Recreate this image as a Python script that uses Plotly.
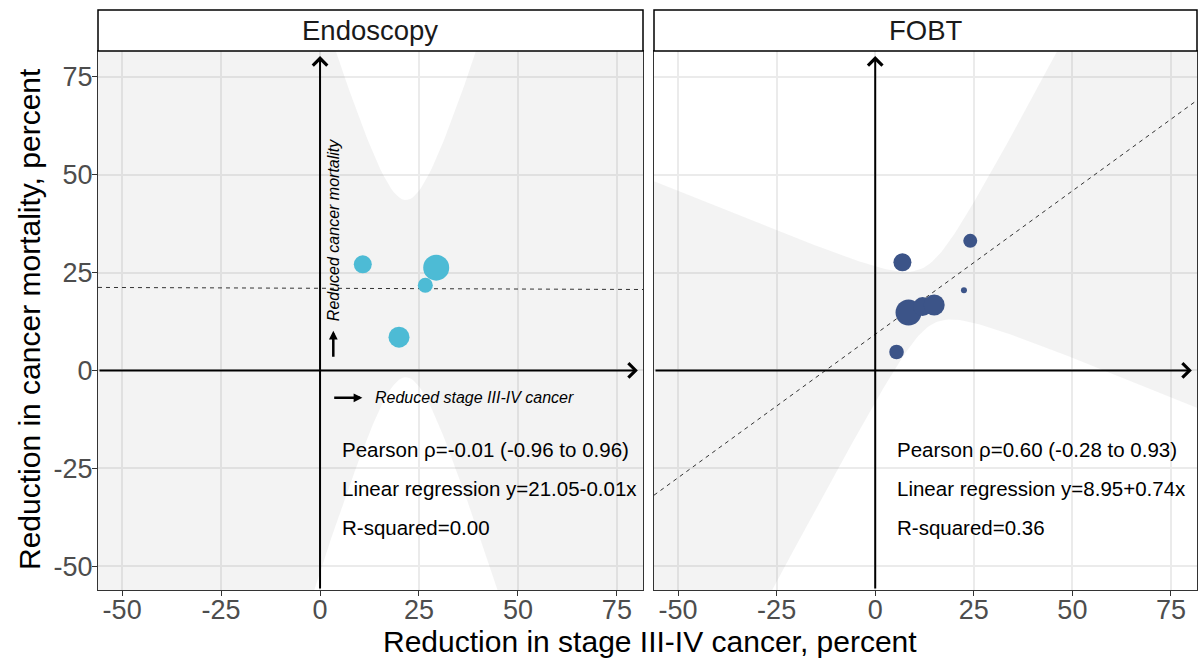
import numpy as np
import plotly.graph_objects as go

# ---------------- data ----------------
panels = ["Endoscopy", "FOBT"]

endo_x = [10.8, 29.35, 26.6, 19.95]
endo_y = [27.1, 26.25, 21.75, 8.5]
endo_size = [18, 26, 15, 21]

fobt_x = [6.9, 24.1, 22.5, 8.45, 12.0, 14.95, 5.4]
fobt_y = [27.6, 33.1, 20.45, 14.8, 16.3, 16.7, 4.7]
fobt_size = [18, 14, 6, 26, 19, 21, 14.6]

colors = ["#4DBBD5", "#3C5488"]

stats_endo = ["Pearson ρ=-0.01 (-0.96 to 0.96)",
              "Linear regression y=21.05-0.01x",
              "R-squared=0.00"]
stats_fobt = ["Pearson ρ=0.60 (-0.28 to 0.93)",
              "Linear regression y=8.95+0.74x",
              "R-squared=0.36"]
stats_y = [-20.1, -30.2, -40.1]
stats_x = 5.0

tick_vals = [-50, -25, 0, 25, 50, 75]
tick_text = ["-50", "-25", "0", "25", "50", "75"]

x_range = [-56.1, 81.6]
y_range = [-56.1, 81.6]
arrow_tip = 80.3

# t critical values (97.5%) by residual degrees of freedom
t_crit = {2: 4.302653, 5: 2.570582}

# ---------------- layout geometry ----------------
W, H = 1203, 664
def px(x): return x / W
def py(y): return (H - y) / H

x_dom = [[px(98), px(643)], [px(654), px(1197)]]
y_dom = [py(590), py(51)]

FONT = "Liberation Sans, Arial, sans-serif"

fig = go.Figure()

datasets = [(endo_x, endo_y, endo_size), (fobt_x, fobt_y, fobt_size)]

for i, (xs, ys, ss) in enumerate(datasets):
    xa = "x" if i == 0 else "x2"
    ya = "y" if i == 0 else "y2"
    x = np.array(xs, float)
    y = np.array(ys, float)
    n = len(x)
    b1, b0 = np.polyfit(x, y, 1)
    xbar = x.mean()
    sxx = ((x - xbar) ** 2).sum()
    resid = y - (b0 + b1 * x)
    s = np.sqrt((resid ** 2).sum() / (n - 2))
    xg = np.linspace(x_range[0], x_range[1], 200)
    fit = b0 + b1 * xg
    se = s * np.sqrt(1.0 / n + (xg - xbar) ** 2 / sxx)
    tq = t_crit[n - 2]
    upper = fit + tq * se
    lower = fit - tq * se
    fig.add_trace(go.Scatter(
        x=np.concatenate([xg, xg[::-1]]),
        y=np.concatenate([upper, lower[::-1]]),
        fill="toself", fillcolor="rgba(120,120,120,0.09)",
        line=dict(width=0), mode="lines", hoverinfo="skip",
        showlegend=False, xaxis=xa, yaxis=ya))
    fig.add_trace(go.Scatter(
        x=xg, y=fit, mode="lines",
        line=dict(color="#333333", width=1, dash="4px,4px"),
        showlegend=False, xaxis=xa, yaxis=ya))
    fig.add_trace(go.Scatter(
        x=xs, y=ys, mode="markers",
        marker=dict(size=ss, color=colors[i], line=dict(width=0), opacity=1),
        showlegend=False, xaxis=xa, yaxis=ya))

axis_common = dict(
    tickvals=tick_vals, ticktext=tick_text,
    showgrid=True, gridcolor="#EBEBEB", gridwidth=2,
    zeroline=False, showline=True, linecolor="#333333", linewidth=1.3,
    mirror=True, ticks="outside", ticklen=5, tickcolor="#333333", tickwidth=1.3,
    tickfont=dict(family=FONT, size=27, color="#4D4D4D"),
)

fig.update_layout(
    width=W, height=H, autosize=False,
    margin=dict(l=0, r=0, t=0, b=0),
    paper_bgcolor="white", plot_bgcolor="white",
    showlegend=False,
    xaxis=dict(axis_common, domain=x_dom[0], range=x_range, anchor="y", ticklabelstandoff=-10),
    xaxis2=dict(axis_common, domain=x_dom[1], range=x_range, anchor="y2", ticklabelstandoff=-10),
    yaxis=dict(axis_common, domain=y_dom, range=y_range, anchor="x", ticklabelstandoff=-6),
    yaxis2=dict(axis_common, domain=y_dom, range=y_range, anchor="x2",
                showticklabels=False, ticks=""),
)

shapes = []
annotations = []
for i, name in enumerate(panels):
    shapes.append(dict(type="rect", xref="paper", yref="paper",
                       x0=x_dom[i][0], x1=x_dom[i][1], y0=y_dom[1], y1=py(10),
                       fillcolor="white", line=dict(color="black", width=1.5)))
    annotations.append(dict(xref="paper", yref="paper",
                            x=(x_dom[i][0] + x_dom[i][1]) / 2, y=(y_dom[1] + py(10)) / 2,
                            text=name, showarrow=False, xanchor="center", yanchor="middle",
                            font=dict(family=FONT, size=27.5, color="#1A1A1A")))
    xa = "x" if i == 0 else "x2"
    ya = "y" if i == 0 else "y2"
    # axis arrows
    annotations.append(dict(xref=xa, yref=ya, axref=xa, ayref=ya,
                            x=0, y=arrow_tip, ax=0, ay=y_range[0], text="",
                            showarrow=True, arrowhead=4, arrowsize=1.4, arrowwidth=2,
                            arrowcolor="black", standoff=0, startstandoff=0))
    annotations.append(dict(xref=xa, yref=ya, axref=xa, ayref=ya,
                            x=arrow_tip, y=0, ax=x_range[0], ay=0, text="",
                            showarrow=True, arrowhead=4, arrowsize=1.4, arrowwidth=2,
                            arrowcolor="black", standoff=0, startstandoff=0))
    stats = stats_endo if i == 0 else stats_fobt
    for t, yy in zip(stats, stats_y):
        annotations.append(dict(xref=xa, yref=ya, x=stats_x, y=yy, text=t,
                                showarrow=False, xanchor="left", yanchor="middle",
                                font=dict(family=FONT, size=20.5, color="black")))

# direction hints (left panel)
annotations.append(dict(xref="x", yref="y", axref="x", ayref="y",
                        x=10.7, y=-7.0, ax=3.2, ay=-7.0, text="",
                        showarrow=True, arrowhead=2, arrowsize=0.7, arrowwidth=2.5,
                        arrowcolor="black", standoff=0))
annotations.append(dict(xref="x", yref="y", x=13.3, y=-7.0,
                        text="<i>Reduced stage III-IV cancer</i>", showarrow=False,
                        xanchor="left", yanchor="middle",
                        font=dict(family=FONT, size=16, color="black")))
annotations.append(dict(xref="x", yref="y", axref="x", ayref="y",
                        x=3.35, y=10.1, ax=3.35, ay=3.1, text="",
                        showarrow=True, arrowhead=2, arrowsize=0.7, arrowwidth=2.5,
                        arrowcolor="black", standoff=0))
annotations.append(dict(xref="x", yref="y", x=3.45, y=12.0,
                        text="<i>Reduced cancer mortality</i>", showarrow=False,
                        textangle=-90, xanchor="center", yanchor="bottom",
                        font=dict(family=FONT, size=16, color="black")))

# axis titles
annotations.append(dict(xref="paper", yref="paper", x=px(650), y=py(641),
                        text="Reduction in stage III-IV cancer, percent", showarrow=False,
                        xanchor="center", yanchor="middle",
                        font=dict(family=FONT, size=30, color="black")))
annotations.append(dict(xref="paper", yref="paper", x=px(29), y=py(319),
                        text="Reduction in cancer mortality, percent", showarrow=False,
                        textangle=-90, xanchor="center", yanchor="middle",
                        font=dict(family=FONT, size=30, color="black")))

fig.update_layout(shapes=shapes, annotations=annotations)
fig.write_html("out.html")
